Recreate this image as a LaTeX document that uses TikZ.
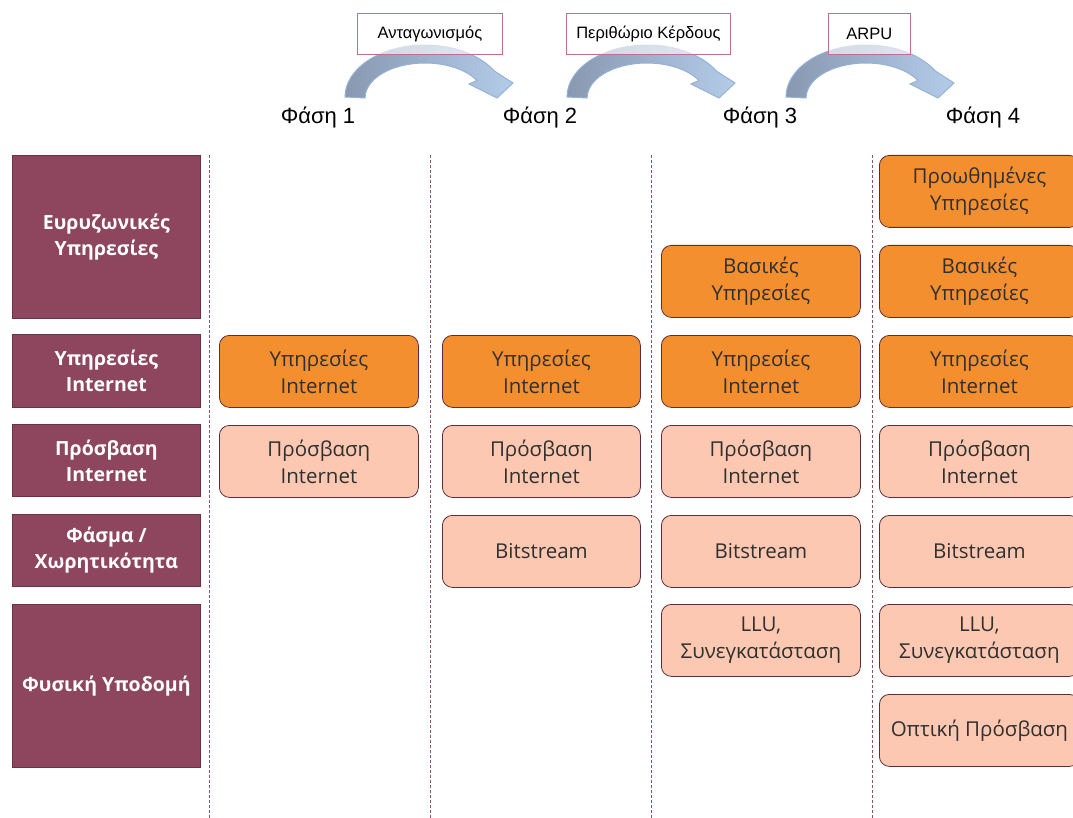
\documentclass[tikz,border=0pt]{standalone}
\usepackage{fontspec}
\setmainfont{Open Sans}
\newfontfamily\arialfont{Liberation Sans}
\begin{document}
\definecolor{catfill}{HTML}{8E465F}
\definecolor{catedge}{HTML}{6E3048}
\definecolor{orangefill}{HTML}{F38F2E}
\definecolor{peachfill}{HTML}{FCC8B1}
\definecolor{boxedge}{HTML}{5E2C3C}
\definecolor{boxtext}{HTML}{303030}
\definecolor{sepline}{HTML}{8A5468}
\definecolor{labeledge}{HTML}{C07088}
\definecolor{arrowdark}{HTML}{8898B0}
\definecolor{arrowlight}{HTML}{B4CCE9}
\definecolor{arrowedge}{HTML}{94B2D8}
\begin{tikzpicture}[x=1pt,y=-1pt,
  category/.style={draw=catedge,fill=catfill,text=white,line width=0.8pt,
    anchor=north west,minimum width=188pt,align=center,inner sep=0pt,
    font=\fontsize{19.5}{26}\selectfont\bfseries},
  cell/.style={draw=boxedge,line width=0.8pt,rounded corners=10pt,
    anchor=north west,minimum height=72pt,align=center,inner sep=0pt,
    text=boxtext,font=\fontsize{20.5}{27}\selectfont},
  service/.style={cell,fill=orangefill},
  access/.style={cell,fill=peachfill},
  phase/.style={font=\arialfont\fontsize{22}{25}\selectfont},
  driver/.style={draw=labeledge,fill=white,fill opacity=0.6,text opacity=1,
    anchor=north west,minimum height=41pt,inner sep=0pt,line width=0.8pt,
    font=\arialfont\fontsize{16.5}{19}\selectfont},
  separator/.style={sepline,dashed,line width=0.7pt,dash pattern=on 3pt off 2pt},
  flowarrow/.style={left color=arrowdark,right color=arrowlight,draw=arrowedge,line width=1pt}
]
\useasboundingbox (0,0) rectangle (1073,818);

% curved arrow between two phases, shifted horizontally by #1
\newcommand\phasearrow[1]{%
  \begin{scope}[xshift=#1]
    \shadedraw[flowarrow] (345,97) arc[start angle=180,end angle=330,x radius=80,y radius=52]
      -- (513,83) -- (497,98) -- (469,84) -- (477,80.5)
      arc[start angle=330,end angle=180,x radius=60,y radius=35] -- cycle;
  \end{scope}}
\phasearrow{0}
\phasearrow{222}
\phasearrow{441}

% labels above the arrows
\node[driver,minimum width=145pt] (comp) at (357,13) {Ανταγωνισμός};
\node[driver,minimum width=164pt] (margin) at (566,13) {Περιθώριο Κέρδους};
\node[driver,minimum width=82pt] (arpu) at (828,13) {ARPU};

% phase headings
\node[phase] (p1) at (318,117) {Φάση 1};
\node[phase] (p2) at (540,117) {Φάση 2};
\node[phase] (p3) at (760,117) {Φάση 3};
\node[phase] (p4) at (983,117) {Φάση 4};

% column separators
\foreach \x in {209,430,651,872}
  \draw[separator] (\x,155) -- (\x,818);

% row categories
\node[category,minimum height=163pt] (catbb) at (12,155) {Ευρυζωνικές\\Υπηρεσίες};
\node[category,minimum height=73pt] (catis) at (12,334) {Υπηρεσίες\\Internet};
\node[category,minimum height=72pt] (catia) at (12,424) {Πρόσβαση\\Internet};
\node[category,minimum height=72pt] (catsp) at (12,514) {Φάσμα /\\Χωρητικότητα};
\node[category,minimum height=163pt] (catph) at (12,604) {Φυσική Υποδομή};

% phase 1
\node[service,minimum width=199pt] (is1) at (219,335) {Υπηρεσίες\\Internet};
\node[access,minimum width=199pt] (ia1) at (219,425) {Πρόσβαση\\Internet};

% phase 2
\node[service,minimum width=198pt] (is2) at (442,335) {Υπηρεσίες\\Internet};
\node[access,minimum width=198pt] (ia2) at (442,425) {Πρόσβαση\\Internet};
\node[access,minimum width=198pt] (bs2) at (442,515) {Bitstream};

% phase 3
\node[service,minimum width=199pt] (bas3) at (661,245) {Βασικές\\Υπηρεσίες};
\node[service,minimum width=199pt] (is3) at (661,335) {Υπηρεσίες\\Internet};
\node[access,minimum width=199pt] (ia3) at (661,425) {Πρόσβαση\\Internet};
\node[access,minimum width=199pt] (bs3) at (661,515) {Bitstream};
\node[access,minimum width=199pt] (llu3) at (661,604) {LLU,\\Συνεγκατάσταση};

% phase 4
\node[service,minimum width=200pt] (adv4) at (879,155) {Προωθημένες\\Υπηρεσίες};
\node[service,minimum width=200pt] (bas4) at (879,245) {Βασικές\\Υπηρεσίες};
\node[service,minimum width=200pt] (is4) at (879,335) {Υπηρεσίες\\Internet};
\node[access,minimum width=200pt] (ia4) at (879,425) {Πρόσβαση\\Internet};
\node[access,minimum width=200pt] (bs4) at (879,515) {Bitstream};
\node[access,minimum width=200pt] (llu4) at (879,604) {LLU,\\Συνεγκατάσταση};
\node[access,minimum width=200pt] (opt4) at (879,694) {Οπτική Πρόσβαση};
\end{tikzpicture}
\end{document}
